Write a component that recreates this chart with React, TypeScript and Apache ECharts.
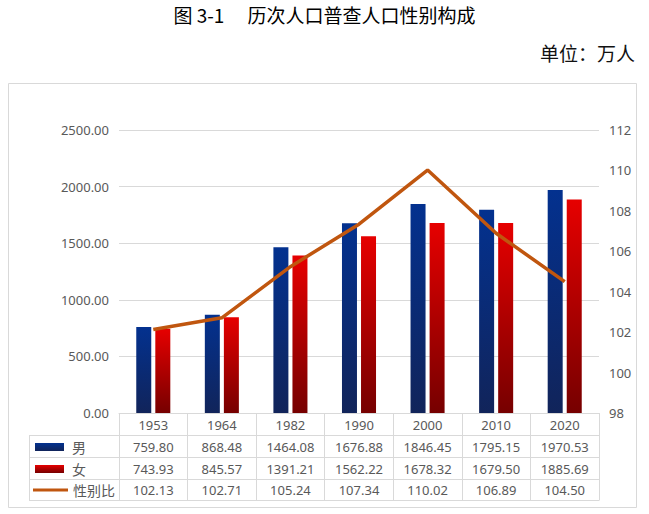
import React, { useEffect, useRef } from "react";
import * as echarts from "echarts";

const years = ["1953", "1964", "1982", "1990", "2000", "2010", "2020"];
const male = [759.8, 868.48, 1464.08, 1676.88, 1846.45, 1795.15, 1970.53];
const female = [743.93, 845.57, 1391.21, 1562.22, 1678.32, 1679.5, 1885.69];
const sexRatio = [102.13, 102.71, 105.24, 107.34, 110.02, 106.89, 104.5];
const leftAxis = { min: 0, max: 2500, interval: 500 };
const rightAxis = { min: 98, max: 112, interval: 2 };
const titleText = "图 3-1　 历次人口普查人口性别构成";
const unitText = "单位：万人";

const FONT = "'Noto Sans', 'Noto Sans CJK SC', sans-serif";
const CJK = "'Noto Sans CJK SC', sans-serif";
const GRAY = "#595959";
const LINE = "#d9d9d9";

const maleColor = new echarts.graphic.LinearGradient(0, 0, 0, 1, [
  { offset: 0, color: "#03318f" },
  { offset: 1, color: "#11245a" },
]);
const femaleColor = new echarts.graphic.LinearGradient(0, 0, 0, 1, [
  { offset: 0, color: "#e60000" },
  { offset: 1, color: "#760000" },
]);

export default function App() {
  const ref = useRef<HTMLDivElement>(null);
  useEffect(() => {
    const chart = echarts.init(ref.current!, null, { renderer: "svg" });
    const gridBottom = 413;
    const tableAxis = (vals: string[], offset: number) => ({
      type: "category",
      gridIndex: 0,
      position: "bottom",
      offset,
      data: vals,
      axisLine: { show: false },
      axisTick: { show: false },
      splitLine: { show: false },
      axisLabel: {
        interval: 0,
        margin: 5,
        fontSize: 13,
        fontFamily: FONT,
        color: GRAY,
      },
    });
    const legendText = (pad: number) => ({
      fontSize: 14,
      color: GRAY,
      fontFamily: CJK,
      padding: [0, 0, 0, pad],
    });
    const legendCommon = {
      padding: 0,
      selectedMode: false,
      icon: "rect",
    };
    chart.setOption({
      animation: false,
      backgroundColor: "#ffffff",
      title: [
        {
          text: titleText,
          left: "center",
          top: 5,
          padding: 0,
          textStyle: { fontSize: 19, fontWeight: "normal", color: "#000", fontFamily: CJK },
        },
        {
          text: unitText,
          right: 14,
          top: 43,
          padding: 0,
          textStyle: { fontSize: 19, fontWeight: "normal", color: "#111", fontFamily: CJK },
        },
      ],
      grid: { left: 119, top: 130, width: 480, height: gridBottom - 130, containLabel: false },
      legend: [
        { ...legendCommon, data: ["男"], left: 35, top: 440, itemWidth: 29, itemHeight: 8, textStyle: legendText(3) },
        { ...legendCommon, data: ["女"], left: 35, top: 462, itemWidth: 29, itemHeight: 8, textStyle: legendText(3) },
        { ...legendCommon, data: ["性别比"], left: 33, top: 483, itemWidth: 35, itemHeight: 3, textStyle: legendText(0) },
      ],
      xAxis: [
        {
          type: "category",
          data: years,
          axisLine: { show: true, lineStyle: { color: LINE } },
          axisTick: { show: true, length: 87, lineStyle: { color: LINE } },
          axisLabel: { interval: 0, margin: 5, fontSize: 13, fontFamily: FONT, color: GRAY },
        },
        tableAxis(male.map((v) => v.toFixed(2)), 22),
        tableAxis(female.map((v) => v.toFixed(2)), 44),
        tableAxis(sexRatio.map((v) => v.toFixed(2)), 65),
      ],
      yAxis: [
        {
          type: "value",
          ...leftAxis,
          axisLine: { show: false },
          axisTick: { show: false },
          splitLine: { lineStyle: { color: LINE } },
          axisLabel: {
            margin: 10,
            fontSize: 13,
            fontFamily: FONT,
            color: GRAY,
            formatter: (v: number) => v.toFixed(2),
          },
        },
        {
          type: "value",
          ...rightAxis,
          position: "right",
          axisLine: { show: false },
          axisTick: { show: false },
          splitLine: { show: false },
          axisLabel: { margin: 10, fontSize: 13, fontFamily: FONT, color: GRAY },
        },
      ],
      series: [
        {
          name: "男",
          type: "bar",
          data: male,
          barWidth: 15,
          barGap: "27%",
          itemStyle: { color: maleColor },
        },
        {
          name: "女",
          type: "bar",
          data: female,
          barWidth: 15,
          barGap: "27%",
          itemStyle: { color: femaleColor },
        },
        {
          name: "性别比",
          type: "line",
          yAxisIndex: 1,
          data: sexRatio,
          symbol: "none",
          lineStyle: { color: "#c0560f", width: 3.5 },
          itemStyle: { color: "#c0560f" },
        },
      ],
      graphic: [
        {
          type: "rect",
          silent: true,
          z: -10,
          shape: { x: 8.5, y: 83.5, width: 628, height: 424 },
          style: { fill: "none", stroke: LINE, lineWidth: 1 },
        },
        ...[435.5, 457.5, 479.5, 500.5].map((y) => ({
          type: "line",
          silent: true,
          shape: { x1: 29, y1: y, x2: 599.5, y2: y },
          style: { stroke: LINE, lineWidth: 1 },
        })),
        {
          type: "line",
          silent: true,
          shape: { x1: 29.5, y1: 435.5, x2: 29.5, y2: 500.5 },
          style: { stroke: LINE, lineWidth: 1 },
        },
      ],
    });
    return () => chart.dispose();
  }, []);
  return (
    <div
      ref={ref}
      style={{ position: "absolute", left: 0, top: 0, width: 649, height: 514 }}
    />
  );
}
